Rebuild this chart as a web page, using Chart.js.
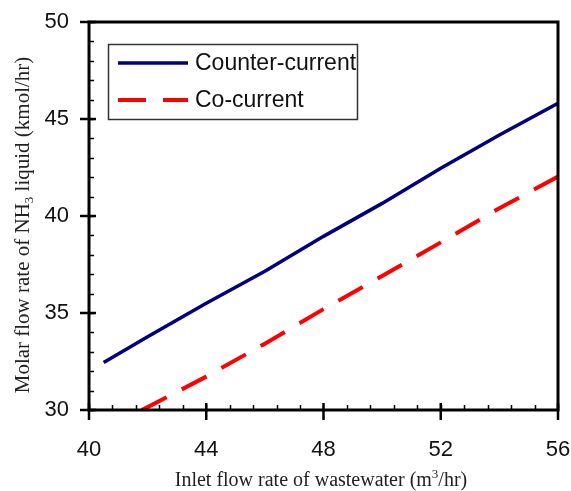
<!DOCTYPE html>
<html>
<head>
<meta charset="utf-8">
<script src="https://cdn.jsdelivr.net/npm/chart.js@4.4.0/dist/chart.umd.min.js"></script>
<style>
html, body { margin: 0; padding: 0; background: #fff; }
#wrap { width: 571px; height: 491px; }
</style>
</head>
<body>
<div id="wrap"><canvas id="grafico"></canvas></div>
<script>
// Datos
const caudalContra = [40.5, 42, 44, 46, 48, 50, 52, 54, 56];
const nh3Contra = [32.45, 33.78, 35.5, 37.15, 38.95, 40.65, 42.46, 44.18, 45.81];
const caudalCo = [41.8, 42, 44, 46, 48, 50, 52, 54, 56];
const nh3Co = [30.0, 30.15, 31.72, 33.42, 35.2, 36.91, 38.64, 40.4, 42.03];

const ticksX = [40, 44, 48, 52, 56];
const ticksY = [30, 35, 40, 45, 50];
const etiquetas = ['Counter-current', 'Co-current'];

const puntos = (xs, ys) => xs.map((x, i) => ({ x: x, y: ys[i] }));

// Marco, marcas de los ejes y titulos
const marco = {
    id: 'marco',
    afterDatasetsDraw(chart) {
        const ctx = chart.ctx;
        const a = chart.chartArea;
        const sx = chart.scales.x, sy = chart.scales.y;
        ctx.save();
        ctx.strokeStyle = '#000';
        ctx.lineWidth = 1.5;
        // marcas menores
        for (let v = 40; v <= 56.001; v += 0.8) {
            const px = Math.round(sx.getPixelForValue(v)) + 0.5;
            ctx.beginPath(); ctx.moveTo(px, a.bottom); ctx.lineTo(px, a.bottom - 5); ctx.stroke();
        }
        for (let v = 30; v <= 50; v += 1) {
            const py = Math.round(sy.getPixelForValue(v)) + 0.5;
            ctx.beginPath(); ctx.moveTo(a.left, py); ctx.lineTo(a.left + 5, py); ctx.stroke();
        }
        // marcas mayores
        ctx.lineWidth = 2.5;
        ticksX.forEach(v => {
            const px = sx.getPixelForValue(v);
            ctx.beginPath(); ctx.moveTo(px, a.bottom + 10); ctx.lineTo(px, a.bottom - 7); ctx.stroke();
        });
        ticksY.forEach(v => {
            const py = sy.getPixelForValue(v);
            ctx.beginPath(); ctx.moveTo(a.left - 9, py); ctx.lineTo(a.left + 7, py); ctx.stroke();
        });
        // marco
        ctx.lineWidth = 3;
        ctx.strokeRect(a.left, a.top, a.right - a.left, a.bottom - a.top);

        // titulo eje x
        ctx.fillStyle = '#222';
        ctx.textBaseline = 'alphabetic';
        const fNormal = '20px "Liberation Serif", "Times New Roman", serif';
        const fChico = '13px "Liberation Serif", "Times New Roman", serif';
        const partesX = [['Inlet flow rate of wastewater (m', fNormal, 0], ['3', fChico, -8], ['/hr)', fNormal, 0]];
        dibujarPartes(ctx, partesX, 321, 486);
        // titulo eje y
        ctx.translate(29, 225);
        ctx.rotate(-Math.PI / 2);
        const fNormalY = '21px "Liberation Serif", "Times New Roman", serif';
        const partesY = [['Molar flow rate of NH', fNormalY, 0], ['3', fChico, 4], [' liquid (kmol/hr)', fNormalY, 0]];
        dibujarPartes(ctx, partesY, 0, 0);
        ctx.restore();
    },
    afterDraw(chart) {
        // leyenda dentro del area
        const ctx = chart.ctx;
        ctx.save();
        ctx.fillStyle = '#fff';
        ctx.fillRect(108, 44, 250, 76);
        ctx.strokeStyle = '#333';
        ctx.lineWidth = 1.5;
        ctx.strokeRect(108.5, 44.5, 249, 75);
        ctx.font = '23px "Liberation Sans", Arial, sans-serif';
        ctx.textBaseline = 'middle';
        ctx.fillStyle = '#111';
        chart.data.datasets.forEach((ds, i) => {
            const y = 63 + i * 37;
            ctx.strokeStyle = ds.borderColor;
            ctx.lineWidth = ds.borderWidth;
            ctx.setLineDash(ds.borderDash || []);
            ctx.beginPath(); ctx.moveTo(118, y); ctx.lineTo(188, y); ctx.stroke();
            ctx.setLineDash([]);
            ctx.fillText(ds.label, 195, y + 1);
        });
        ctx.restore();
    }
};

function dibujarPartes(ctx, partes, cx, y) {
    let ancho = 0;
    partes.forEach(p => { ctx.font = p[1]; ancho += ctx.measureText(p[0]).width; });
    let x = cx - ancho / 2;
    ctx.textAlign = 'left';
    partes.forEach(p => {
        ctx.font = p[1];
        ctx.fillText(p[0], x, y + p[2]);
        x += ctx.measureText(p[0]).width;
    });
}

const fuenteEjes = { family: '"Liberation Sans", Arial, sans-serif', size: 22 };

const grafico = new Chart(document.getElementById('grafico'), {
    type: 'line',
    data: {
        datasets: [{
            label: etiquetas[0],
            data: puntos(caudalContra, nh3Contra),
            borderColor: '#000080',
            borderWidth: 3.5,
            pointRadius: 0,
            fill: false
        }, {
            label: etiquetas[1],
            data: puntos(caudalCo, nh3Co),
            borderColor: '#ff0000',
            borderWidth: 4,
            borderDash: [28, 17],
            pointRadius: 0,
            fill: false
        }]
    },
    options: {
        responsive: true,
        maintainAspectRatio: false,
        animation: false,
        layout: { padding: { top: 22, right: 13, left: 0, bottom: 0 } },
        plugins: { legend: { display: false }, tooltip: { enabled: false } },
        scales: {
            x: {
                type: 'linear', min: 40, max: 56,
                afterBuildTicks: s => { s.ticks = ticksX.map(v => ({ value: v })); },
                afterFit: s => { s.height = 81; s.paddingLeft = 0; s.paddingRight = 0; },
                grid: { display: false, drawTicks: false },
                border: { display: false },
                ticks: { color: '#111', font: fuenteEjes, padding: 27 }
            },
            y: {
                min: 30, max: 50,
                afterBuildTicks: s => { s.ticks = ticksY.map(v => ({ value: v })); },
                afterFit: s => { s.width = 89; s.paddingTop = 0; s.paddingBottom = 0; },
                grid: { display: false, drawTicks: false },
                border: { display: false },
                ticks: { color: '#111', font: fuenteEjes, padding: 20 }
            }
        }
    },
    plugins: [marco]
});
</script>
</body>
</html>
